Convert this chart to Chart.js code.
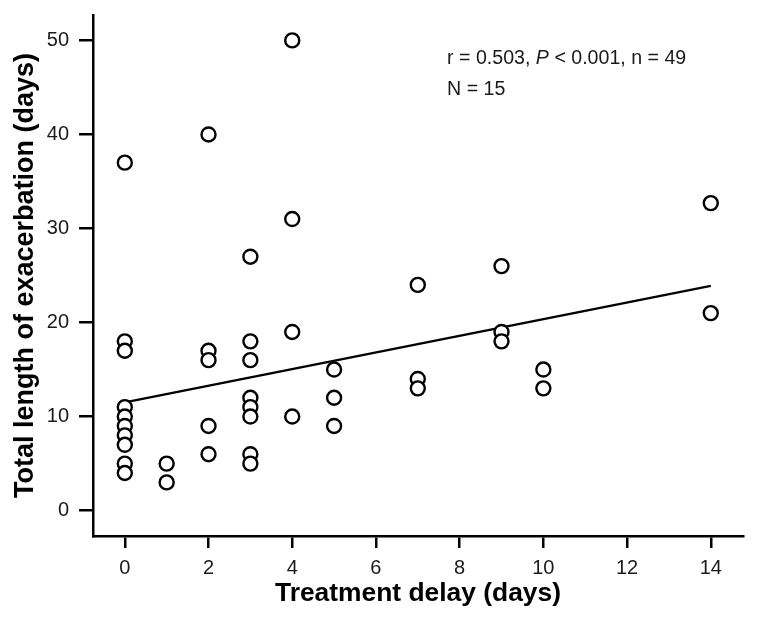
<!DOCTYPE html>
<html>
<head>
<meta charset="utf-8">
<script src="https://cdn.jsdelivr.net/npm/chart.js@4/dist/chart.umd.min.js"></script>
<style>
  html, body { margin: 0; padding: 0; background: #ffffff; }
  #wrap { width: 759px; height: 625px; position: relative; }
</style>
</head>
<body>
<div id="wrap"><canvas id="scatter"></canvas></div>
<script>
// Datos
const delayDays = [0, 0, 0, 0, 0, 0, 0, 0, 0, 0,
  1, 1,
  2, 2, 2, 2, 2,
  3, 3, 3, 3, 3, 3, 3, 3,
  4, 4, 4, 4,
  5, 5, 5,
  7, 7, 7,
  9, 9, 9,
  10, 10,
  14, 14];
const exacerbationDays = [37, 18, 17, 11, 10, 9, 8, 7, 5, 4,
  5, 3,
  40, 17, 16, 9, 6,
  27, 18, 16, 12, 11, 10, 6, 5,
  50, 31, 19, 10,
  15, 12, 9,
  24, 14, 13,
  26, 19, 18,
  15, 13,
  32.7, 21];

// Recta de regresión (extremos)
const fitX = [0, 14];
const fitY = [11.5, 23.9];

// Marcas de los ejes
const xTicks = [0, 2, 4, 6, 8, 10, 12, 14];
const yTicks = [0, 10, 20, 30, 40, 50];

const xTitle = 'Treatment delay (days)';
const yTitle = 'Total length of exacerbation (days)';

// Paleta y fuente
const colors = {
  ink: '#000000',
  label: '#1a1a1a',
  fill: '#ffffff'
};
const family = 'Arial, "Liberation Sans", Helvetica, sans-serif';

// Texto de estadísticas (arriba a la derecha)
const statsPlugin = {
  id: 'stats',
  afterDatasetsDraw(chart) {
    const ctx = chart.ctx;
    const x0 = chart.scales.x.getPixelForValue(7.7);
    const y1 = chart.scales.y.getPixelForValue(47.5);
    const y2 = chart.scales.y.getPixelForValue(44.2);
    const normal = '19.6px ' + family;
    const italic = 'italic 19.6px ' + family;
    ctx.save();
    ctx.fillStyle = colors.label;
    ctx.textBaseline = 'alphabetic';
    ctx.textAlign = 'left';
    let x = x0;
    const parts = [['r = 0.503, ', normal], ['P', italic], [' < 0.001, n = 49', normal]];
    parts.forEach(([txt, font]) => {
      ctx.font = font;
      ctx.fillText(txt, x, y1);
      x += ctx.measureText(txt).width;
    });
    ctx.font = normal;
    ctx.fillText('N = 15', x0, y2);
    ctx.restore();
  }
};

const points = delayDays.map((d, i) => ({ x: d, y: exacerbationDays[i] }));
const fitLine = fitX.map((d, i) => ({ x: d, y: fitY[i] }));

new Chart(document.getElementById('scatter'), {
  type: 'scatter',
  data: {
    datasets: [
      {
        label: 'Patients',
        data: points,
        order: 1,
        pointRadius: 7,
        pointHoverRadius: 7,
        pointBorderWidth: 2.4,
        pointBorderColor: colors.ink,
        pointBackgroundColor: colors.fill
      },
      {
        type: 'line',
        label: 'Fit',
        data: fitLine,
        order: 2,
        borderColor: colors.ink,
        borderWidth: 2.3,
        pointRadius: 0,
        fill: false
      }
    ]
  },
  options: {
    responsive: true,
    maintainAspectRatio: false,
    animation: false,
    layout: { padding: { left: 0, right: 16, top: 15, bottom: 0 } },
    plugins: {
      legend: { display: false },
      tooltip: { enabled: false }
    },
    scales: {
      x: {
        type: 'linear',
        min: -0.76,
        max: 14.77,
        afterBuildTicks: (scale) => { scale.ticks = xTicks.map(v => ({ value: v })); },
        afterFit: (scale) => {
          scale.height = 89;
          scale.paddingLeft = 0;
          scale.paddingRight = 0;
        },
        border: { display: true, color: colors.ink, width: 2.5 },
        grid: { drawOnChartArea: false, drawTicks: true, tickLength: 12, color: colors.ink, lineWidth: 2.5 },
        ticks: { color: colors.label, padding: 8, font: { family, size: 20 } },
        title: {
          display: true,
          text: xTitle,
          color: colors.ink,
          padding: { top: 0, bottom: 15 },
          font: { family, size: 26.4, weight: 'bold' }
        }
      },
      y: {
        type: 'linear',
        min: -2.7,
        max: 52.7,
        afterBuildTicks: (scale) => { scale.ticks = yTicks.map(v => ({ value: v })); },
        afterFit: (scale) => {
          scale.width = 93;
          scale.paddingTop = 0;
          scale.paddingBottom = 0;
        },
        border: { display: true, color: colors.ink, width: 2.5 },
        grid: { drawOnChartArea: false, drawTicks: true, tickLength: 14, color: colors.ink, lineWidth: 2.5 },
        ticks: { color: colors.label, padding: 10, font: { family, size: 20 } },
        title: {
          display: true,
          text: yTitle,
          color: colors.ink,
          padding: { top: 9, bottom: 0 },
          font: { family, size: 27, weight: 'bold' }
        }
      }
    }
  },
  plugins: [statsPlugin]
});
</script>
</body>
</html>
